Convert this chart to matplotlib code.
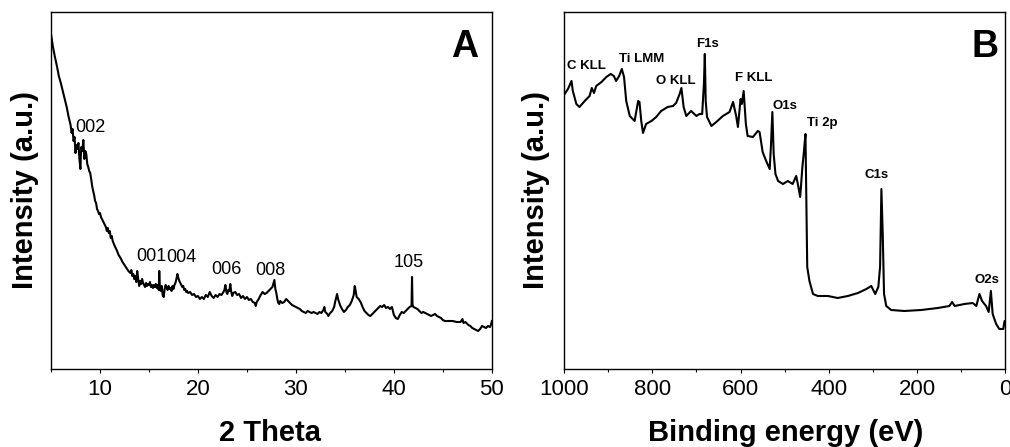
import matplotlib
matplotlib.use("Agg")
import matplotlib.pyplot as plt
from matplotlib.ticker import MultipleLocator

plt.rcParams['font.family'] = ['Liberation Sans', 'DejaVu Sans']

# ---------------- Panel A: XRD ----------------
xrd_2theta = [5.0, 5.2, 5.4, 5.6, 5.8, 6.0, 6.2, 6.4, 6.6, 6.8, 7.0, 7.1, 7.2, 7.3, 7.4, 7.5,
              7.6, 7.7, 7.8, 7.9, 8.0, 8.05, 8.1, 8.2, 8.3, 8.35, 8.4, 8.5, 8.6, 8.7, 8.8,
              8.9, 9.0, 9.1, 9.2, 9.3, 9.4, 9.5, 9.6, 9.7, 9.8, 9.9, 10.0, 10.1, 10.2, 10.3,
              10.4, 10.5, 10.6, 10.7, 10.8, 10.9, 11.0, 11.1, 11.2, 11.3, 11.5, 11.7, 11.9,
              12.1, 12.3, 12.5, 12.7, 12.9, 13.1, 13.2, 13.3, 13.4, 13.5, 13.6, 13.7, 13.8,
              13.9, 14.0, 14.1, 14.2, 14.3, 14.4, 14.5, 14.6, 14.7, 14.8, 14.9, 15.0, 15.1,
              15.2, 15.3, 15.4, 15.5, 15.6, 15.7, 15.8, 15.9, 16.0, 16.05, 16.1, 16.2, 16.3,
              16.4, 16.5, 16.6, 16.7, 16.8, 16.9, 17.0, 17.1, 17.2, 17.3, 17.4, 17.5, 17.6,
              17.7, 17.8, 17.9, 18.0, 18.1, 18.2, 18.3, 18.4, 18.5, 18.6, 18.7, 18.8, 18.9,
              19.0, 19.2, 19.4, 19.6, 19.8, 20.0, 20.2, 20.4, 20.6, 20.8, 21.0, 21.2, 21.4,
              21.6, 21.8, 22.0, 22.2, 22.4, 22.6, 22.7, 22.8, 22.9, 23.0, 23.1, 23.2, 23.3,
              23.4, 23.5, 23.6, 23.8, 24.0, 24.2, 24.4, 24.6, 24.8, 25.0, 25.2, 25.4, 25.6,
              25.8, 25.9, 26.0, 26.2, 26.4, 26.6, 26.8, 27.0, 27.2, 27.4, 27.6, 27.8, 27.9,
              28.0, 28.1, 28.2, 28.3, 28.4, 28.6, 28.8, 29.0, 29.2, 29.4, 29.6, 29.8, 30.0,
              30.2, 30.4, 30.6, 30.8, 31.0, 31.2, 31.4, 31.6, 31.8, 32.0, 32.2, 32.4, 32.6,
              32.8, 32.9, 33.0, 33.2, 33.3, 33.5, 33.7, 33.9, 34.0, 34.2, 34.3, 34.5, 34.7,
              34.9, 35.1, 35.3, 35.5, 35.7, 35.9, 36.0, 36.1, 36.2, 36.4, 36.6, 36.8, 37.0,
              37.2, 37.4, 37.6, 37.8, 38.0, 38.2, 38.4, 38.6, 38.8, 39.0, 39.2, 39.4, 39.6,
              39.8, 40.0, 40.2, 40.4, 40.6, 40.8, 41.0, 41.2, 41.4, 41.6, 41.8, 41.85, 41.9,
              42.0, 42.2, 42.4, 42.6, 42.8, 43.0, 43.2, 43.4, 43.6, 43.8, 44.0, 44.2, 44.4,
              44.6, 44.8, 45.0, 45.2, 45.6, 46.0, 46.4, 46.8, 47.0, 47.1, 47.3, 47.6, 47.8,
              48.0, 48.2, 48.4, 48.6, 48.8, 49.0, 49.2, 49.4, 49.6, 49.8, 49.9, 50.0]
xrd_intensity = [335, 322, 312, 303, 293, 286, 278, 270, 262, 252, 244, 236, 240, 228, 232, 216,
                 224, 220, 226, 210, 200, 214, 222, 218, 229, 220, 210, 218, 215, 205, 202,
                 198, 196, 190, 183, 178, 174, 168, 166, 160, 158, 155, 156, 152, 150, 148,
                 146, 144, 142, 138, 141, 136, 138, 131, 133, 128, 123, 119, 114,
                 111, 107, 104, 101, 98, 96, 99, 93, 95, 90, 93, 87, 98,
                 90, 83, 88, 85, 90, 86, 84, 82, 86, 83, 85, 84, 87,
                 82, 84, 81, 84, 82, 85, 81, 84, 79, 98, 84, 78, 83,
                 74, 72, 80, 84, 82, 79, 83, 80, 81, 78, 83, 80, 84,
                 86, 90, 95, 91, 88, 86, 84, 82, 83, 79, 80, 77, 78,
                 76, 77, 74, 75, 72, 73, 70, 72, 70, 74, 72, 77, 73,
                 71, 74, 72, 75, 74, 77, 79, 84, 77, 75, 79, 78, 85,
                 77, 73, 76, 77, 74, 75, 71, 73, 70, 72, 69, 70, 67,
                 66, 63, 67, 70, 74, 77, 75, 76, 78, 80, 82, 89, 80,
                 76, 70, 66, 65, 68, 66, 67, 70, 68, 66, 64, 63, 62,
                 61, 60, 58, 57, 56, 58, 57, 56, 57, 56, 55, 57, 56,
                 59, 62, 57, 55, 53, 56, 58, 62, 67, 75, 70, 64, 60,
                 57, 59, 62, 64, 68, 74, 83, 78, 72, 70, 67, 62, 58,
                 56, 54, 53, 55, 57, 59, 61, 63, 62, 64, 61, 62, 60,
                 62, 54, 51, 50, 54, 57, 56, 58, 60, 62, 63, 92, 64,
                 62, 61, 60, 58, 56, 57, 56, 55, 54, 53, 54, 55, 53,
                 52, 51, 49, 48, 48, 48, 47, 47, 50, 46, 47, 44, 43,
                 41, 40, 39, 38, 40, 43, 42, 41, 43, 42, 44, 48]
xrd_labels = ["002", "001", "004", "006", "008", "105"]
xrd_label_x = [9.05, 15.2, 18.27, 22.9, 27.4, 41.5]
xrd_label_y = [241, 112, 111, 99, 98, 106]

# ---------------- Panel B: XPS survey ----------------
xps_be = [998.5, 991, 983, 980, 972, 965, 953, 942, 937, 932, 927, 915, 904, 894, 887, 882,
          875, 869, 864, 859, 851, 840, 832, 829, 825, 821, 814, 802, 791, 780, 765, 753,
          746, 738, 734, 729, 723, 712, 700, 693, 687, 683, 681, 679, 676, 666, 655, 640,
          625, 617, 610, 606, 600, 597, 593, 588, 584, 572, 561, 557, 550, 542, 534, 531,
          528, 525, 521, 515, 504, 493, 482, 474, 469, 465, 460, 457, 453, 451, 449, 444,
          436, 425, 402, 380, 357, 334, 315, 304, 295, 288, 284, 281, 278, 275, 270, 259,
          229, 191, 153, 127, 121, 115, 93, 74, 66, 59, 53, 44, 38, 33, 29, 21, 14, 5, 2, 0]
xps_intensity = [275, 280, 288, 278, 265, 262, 268, 273, 281, 276, 283, 287, 292, 295, 293, 288,
                 293, 300, 292, 268, 253, 248, 268, 267, 248, 236, 245, 248, 252, 258, 262, 263,
                 266, 275, 281, 262, 253, 258, 253, 255, 255, 285, 315, 268, 252, 243, 247, 253,
                 257, 267, 253, 242, 270, 265, 278, 245, 233, 232, 238, 237, 217, 208, 200, 225,
                 257, 215, 195, 188, 185, 188, 185, 193, 182, 172, 202, 215, 235, 168, 102, 88,
                 75, 73, 73, 71, 73, 76, 80, 83, 75, 82, 102, 180, 135, 75, 63, 59,
                 58, 59, 61, 63, 67, 63, 65, 66, 63, 75, 68, 63, 57, 78, 55, 45, 40, 40, 48, 48]
xps_labels = ["C KLL", "Ti LMM", "O KLL", "F1s", "F KLL", "O1s", "Ti 2p", "C1s", "O2s"]
xps_label_x = [949, 823, 747, 674, 570, 500, 416, 291, 42]
xps_label_y = [303, 310, 288, 325, 291, 263, 246, 194, 89]

fig = plt.figure(figsize=(10.1, 4.47), dpi=100)
axA = fig.add_axes([0.0505, 0.1745, 0.4365, 0.7987])
axB = fig.add_axes([0.5584, 0.1745, 0.4371, 0.7987])

for ax in (axA, axB):
    for s in ax.spines.values():
        s.set_linewidth(1.0)
    ax.set_yticks([])
    ax.set_ylim(0, 357)
    ax.tick_params(axis='x', which='major', direction='out', length=3, width=0.8,
                   labelsize=16, pad=4)
    ax.tick_params(axis='x', which='minor', direction='out', length=2.2, width=0.8)

axA.plot(xrd_2theta, xrd_intensity, color='black', lw=1.5)
axA.set_xlim(5, 50)
axA.xaxis.set_major_locator(MultipleLocator(10))
axA.xaxis.set_minor_locator(MultipleLocator(5))
for t, x, y in zip(xrd_labels, xrd_label_x, xrd_label_y):
    axA.text(x, y, t, ha='center', va='center', fontsize=13)
axA.text(0.939, 0.902, "A", transform=axA.transAxes, ha='center', va='center',
         fontsize=27, fontweight='bold')
axA.set_xlabel("2 Theta", fontsize=21, fontweight='bold')
axA.xaxis.label.set_va('center')
axA.xaxis.set_label_coords(0.497, -0.179)
axA.set_ylabel("Intensity (a.u.)", fontsize=21, fontweight='bold')
axA.yaxis.label.set_va('center')
axA.yaxis.set_label_coords(-0.059, 0.5)

axB.plot(xps_be, xps_intensity, color='black', lw=1.5)
axB.set_xlim(1000, 0)
axB.xaxis.set_major_locator(MultipleLocator(200))
axB.xaxis.set_minor_locator(MultipleLocator(100))
for t, x, y in zip(xps_labels, xps_label_x, xps_label_y):
    axB.text(x, y, t, ha='center', va='center', fontsize=9.5, fontweight='bold')
axB.text(0.954, 0.902, "B", transform=axB.transAxes, ha='center', va='center',
         fontsize=27, fontweight='bold')
axB.set_xlabel("Binding energy (eV)", fontsize=21, fontweight='bold')
axB.xaxis.label.set_va('center')
axB.xaxis.set_label_coords(0.503, -0.179)
axB.set_ylabel("Intensity (a.u.)", fontsize=21, fontweight='bold')
axB.yaxis.label.set_va('center')
axB.yaxis.set_label_coords(-0.063, 0.5)

fig.savefig("out.png", dpi=100)
